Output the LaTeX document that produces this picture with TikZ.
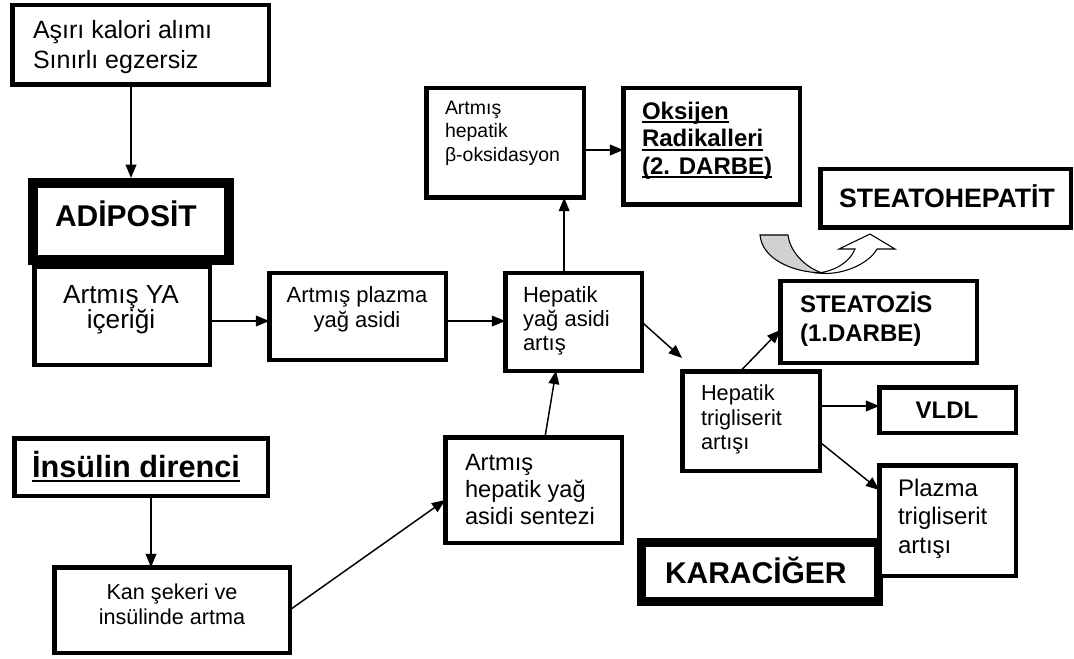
\documentclass[tikz,border=0pt]{standalone}
\usepackage{fontspec}
\setmainfont{Liberation Sans}
\usetikzlibrary{arrows.meta,calc}
\newcommand\thul[1]{\setbox0\hbox{#1}\rlap{\rule[-0.17em]{\wd0}{0.08em}}\box0}
\begin{document}
\begin{tikzpicture}[x=0.75pt,y=-0.75pt,
  box/.style={draw, line width=3.375pt, fill=white, inner sep=0pt, outer sep=0pt},
  thickbox/.style={draw, line width=7.5pt, fill=white, inner sep=0pt, outer sep=0pt},
  txt/.style={inner sep=0pt, outer sep=0pt, align=left},
  ctxt/.style={inner sep=0pt, outer sep=0pt, align=center},
  arr/.style={line width=1.1pt, -{Triangle[length=10pt,width=8pt]}},
]
\useasboundingbox (0,0) rectangle (1074,659);

% boxes
\node[box, minimum width=192.375pt, minimum height=59.625pt] (top) at (140.5,45) {};
\node[box, minimum width=131.625pt, minimum height=73.125pt] (ya) at (122,316) {};
\node[thickbox, minimum width=147pt, minimum height=57.75pt] (adip) at (131,221.5) {};
\node[box, minimum width=132.375pt, minimum height=64.875pt] (plz) at (357.5,316.5) {};
\node[box, minimum width=102.375pt, minimum height=73.125pt] (hya) at (573.5,322) {};
\node[box, minimum width=118.125pt, minimum height=82.125pt] (bet) at (505,143) {};
\node[box, minimum width=132.375pt, minimum height=87.375pt] (oks) at (711.5,146.5) {};
\node[box, minimum width=187.875pt, minimum height=43.875pt] (sth) at (945.5,198.5) {};
\node[box, minimum width=147.375pt, minimum height=61.125pt] (stz) at (878.5,322) {};
\node[box, minimum width=103.125pt, minimum height=74.625pt] (htg) at (751,421) {};
\node[box, minimum width=102.375pt, minimum height=34.125pt] (vldl) at (947.5,410) {};
\node[thickbox, line width=6.75pt, minimum width=177.75pt, minimum height=44.25pt] (kar) at (760,572) {};
\node[box, minimum width=102.375pt, minimum height=82.875pt] (ptg) at (947.5,520.5) {};
\node[box, minimum width=190.125pt, minimum height=43.125pt] (ins) at (141,467) {};
\node[box, minimum width=176.625pt, minimum height=64.125pt] (kan) at (172,610) {};
\node[box, minimum width=132.375pt, minimum height=79.125pt] (sen) at (533.5,490) {};

% texts
\node[txt, anchor=west, font=\fontsize{18.75pt}{22.5pt}\selectfont] (ttop) at (33,47) {Aşırı kalori alımı\\Sınırlı egzersiz};
\node[txt, anchor=base west, font=\fontsize{22.5pt}{27pt}\selectfont\bfseries] (tadip) at (55,227) {ADİPOSİT};
\node[ctxt, font=\fontsize{19.6pt}{18.75pt}\selectfont] (tya) at (121,310) {Artmış YA\\içeriği};
\node[ctxt, font=\fontsize{16.5pt}{18.75pt}\selectfont] (tplz) at (357,309) {Artmış plazma\\yağ asidi};
\node[txt, anchor=west, font=\fontsize{16.5pt}{18pt}\selectfont] (thya) at (523,321) {Hepatik\\yağ asidi\\artış};
\node[txt, anchor=west, font=\fontsize{14.6pt}{17.6pt}\selectfont] (tbet) at (445,133) {Artmış\\hepatik\\β-oksidasyon};
\node[txt, anchor=west, font=\fontsize{18pt}{20.6pt}\selectfont\bfseries] (toks) at (642,140.5) {\thul{Oksijen}\\\thul{Radikalleri}\\\thul{(2. DARBE)}};
\node[ctxt, font=\fontsize{20pt}{22pt}\selectfont\bfseries] (tsth) at (947,196) {STEATOHEPATİT};
\node[txt, anchor=west, font=\fontsize{18pt}{21.75pt}\selectfont\bfseries] (tstz) at (800,319.5) {STEATOZİS\\(1.DARBE)};
\node[ctxt, font=\fontsize{18pt}{22pt}\selectfont\bfseries] (tvldl) at (947,410) {VLDL};
\node[txt, anchor=west, font=\fontsize{16.3pt}{18.4pt}\selectfont] (thtg) at (701,419.5) {Hepatik\\trigliserit\\artışı};
\node[txt, anchor=west, font=\fontsize{18pt}{21.4pt}\selectfont] (tptg) at (898,518.5) {Plazma\\trigliserit\\artışı};
\node[txt, anchor=base west, font=\fontsize{22.5pt}{27pt}\selectfont\bfseries] (tkar) at (665,583) {KARACİĞER};
\node[txt, anchor=base west, font=\fontsize{23pt}{27pt}\selectfont\bfseries] (tins) at (32,477) {\thul{İnsülin direnci}};
\node[ctxt, font=\fontsize{16.2pt}{18.75pt}\selectfont] (tkan) at (172,604.5) {Kan şekeri ve\\insülinde artma};
\node[txt, anchor=west, font=\fontsize{17.7pt}{20.6pt}\selectfont] (tsen) at (465,489.5) {Artmış\\hepatik yağ\\asidi sentezi};

% connectors
\coordinate (c1) at (682,358);
\draw[arr] (adip.north |- top.south) -- ([yshift=3.75pt]adip.north);
\draw[arr] ([yshift=-3.75pt]ya.east) -- ([yshift=-3.75pt]ya.east -| plz.west);
\draw[arr] ([yshift=-3.4pt]plz.east) -- ([yshift=-3.4pt]plz.east -| hya.west);
\draw[arr] ([xshift=-7pt]hya.north) -- ([xshift=-7pt]hya.north |- bet.south);
\draw[arr] ([yshift=-5.25pt]bet.east) -- ([yshift=-5.25pt]bet.east -| oks.west);
\draw[arr] (hya.east) -- (c1);
\draw[arr] ([xshift=-8pt]htg.north) -- ([yshift=-6pt]stz.west);
\draw[arr] ([yshift=11.25pt]htg.east) -- ([yshift=11.25pt]htg.east -| vldl.west);
\draw[arr] ([yshift=-15.75pt]htg.east) -- ([yshift=22.9pt]ptg.west);
\draw[arr] ([xshift=8.6pt]sen.north) -- ([xshift=-13.1pt]hya.south);
\draw[arr] ([xshift=7.5pt]ins.south) -- ([xshift=7.5pt]ins.south |- kan.north);
\draw[arr] (kan.east) -- ([yshift=-7.5pt]sen.west);

% curved arrow
\draw[line width=0.8pt, fill=white] (818,273) .. controls (840,276) and (868,265) .. (877,249) -- (895,249) -- (870,234) -- (839,249) -- (855,249) .. controls (850,262) and (835,271) .. (818,273) -- cycle;
\draw[line width=0.8pt, fill=black!18] (760,235) -- (788,235) .. controls (790,252) and (805,267) .. (822,273) .. controls (790,272) and (762,258) .. (760,235) -- cycle;
\end{tikzpicture}
\end{document}
